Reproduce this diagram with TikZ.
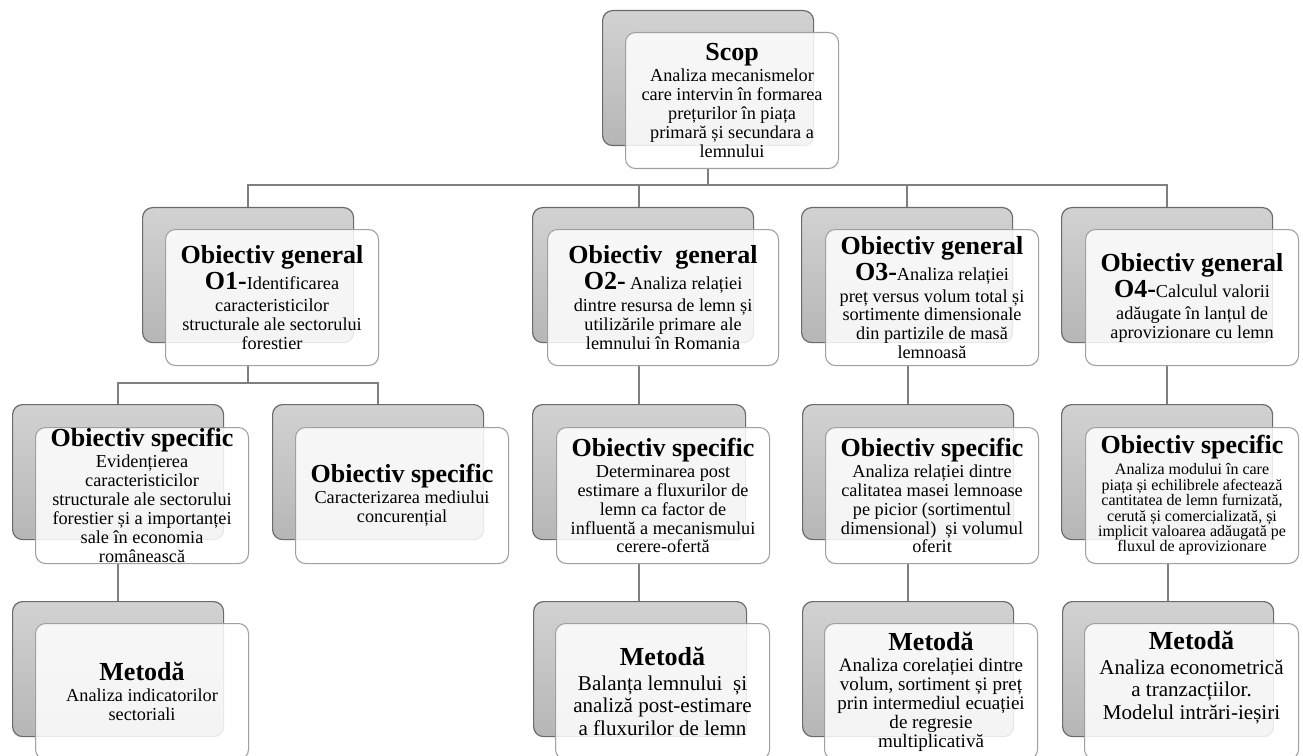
\documentclass[tikz,border=0pt]{standalone}
\usepackage{fontspec}
\setmainfont{Liberation Serif}
\newcommand\ttlfont{\fontsize{19.5}{22}\selectfont\bfseries}
\newcommand\bodyfont{\fontsize{13.7}{14.2}\selectfont}
\newcommand\bodyfontM{\fontsize{14.3}{14.3}\selectfont}
\newcommand\bodyfontL{\fontsize{15.8}{17}\selectfont}
\newcommand\bodyfontS{\fontsize{12}{11.6}\selectfont}
\definecolor{linegray}{HTML}{7F7F7F}
\definecolor{backline}{HTML}{6B6B6B}
\definecolor{backtop}{HTML}{D2D2D2}
\definecolor{backbot}{HTML}{B6B6B6}
\definecolor{frontline}{HTML}{A0A0A0}
\pgfdeclarelayer{background}
\pgfsetlayers{background,main}
\begin{document}
\begin{tikzpicture}[x=0.75pt,y=-0.75pt,
  conn/.style={draw=linegray, line width=1.5pt},
  backbox/.style={draw=backline, line width=0.9pt, top color=backtop, bottom color=backbot,
    rounded corners=7.5pt, anchor=north west, inner sep=0pt,
    minimum width=211*0.75pt, minimum height=135*0.75pt},
  frontbox/.style={draw=frontline, line width=0.8pt, fill=white, fill opacity=0.85,
    rounded corners=7.5pt, anchor=north west, inner sep=0pt,
    minimum width=213*0.75pt, minimum height=136*0.75pt},
  boxtext/.style={align=center, inner sep=0pt, font=\bodyfont},
  wid/.style={minimum width=#1*0.75pt},
]
\useasboundingbox (0,0) rectangle (1303,756);

% ---- scope
\node[backbox] (scopB) at (602,10) {};
\node[frontbox] (scopF) at (625,32) {};
\node[boxtext] (scopT) at (scopF.center)
  {{\ttlfont Scop}\\[1.5pt] Analiza mecanismelor\\ care intervin în formarea\\ prețurilor în piața\\ primară și secundara a\\ lemnului};

% ---- general objectives
\node[backbox] (o1B) at (142,207) {};
\node[frontbox] (o1F) at (165,229) {};
\node[boxtext] (o1T) at (o1F.center)
  {{\ttlfont Obiectiv general}\\[1.5pt] {\ttlfont O1-}Identificarea\\[2pt] caracteristicilor\\ structurale ale sectorului\\ forestier};

\node[backbox, wid=221] (o2B) at (532,207) {};
\node[frontbox, wid=231] (o2F) at (547,229) {};
\node[boxtext] (o2T) at (o2F.center)
  {{\ttlfont Obiectiv\ \ general}\\[1.5pt] {\ttlfont O2-} Analiza relației\\[2pt] dintre resursa de lemn și\\ utilizările primare ale\\ lemnului în Romania};

\node[backbox] (o3B) at (801,207) {};
\node[frontbox] (o3F) at (825,229) {};
\node[boxtext] (o3T) at (o3F.center)
  {{\ttlfont Obiectiv general}\\[1.5pt] {\ttlfont O3-}Analiza relației\\[2pt] preț versus volum total și\\ sortimente dimensionale\\ din partizile de masă\\ lemnoasă};

\node[backbox] (o4B) at (1061,207) {};
\node[frontbox] (o4F) at (1085,229) {};
\node[boxtext] (o4T) at (o4F.center)
  {{\ttlfont Obiectiv general}\\[1.5pt] {\ttlfont O4-}Calculul valorii\\[2pt] adăugate în lanțul de\\ aprovizionare cu lemn};

% ---- specific objectives
\node[backbox] (s1B) at (12,404) {};
\node[frontbox] (s1F) at (35,427) {};
\node[boxtext] (s1T) at (s1F.center)
  {{\ttlfont Obiectiv specific}\\[1.5pt] Evidențierea\\ caracteristicilor\\ structurale ale sectorului\\ forestier și a importanței\\ sale în economia\\ românească};

\node[backbox] (s2B) at (272,404) {};
\node[frontbox] (s2F) at (295,427) {};
\node[boxtext] (s2T) at (s2F.center)
  {{\ttlfont Obiectiv specific}\\[1.5pt] Caracterizarea mediului\\ concurențial};

\node[backbox, wid=213] (s3B) at (532,404) {};
\node[frontbox] (s3F) at (556,427) {};
\node[boxtext] (s3T) at (s3F.center)
  {{\ttlfont Obiectiv specific}\\[1.5pt] Determinarea post\\ estimare a fluxurilor de\\ lemn ca factor de\\ influentă a mecanismului\\ cerere-ofertă};

\node[backbox] (s4B) at (802,404) {};
\node[frontbox] (s4F) at (825,427) {};
\node[boxtext] (s4T) at (s4F.center)
  {{\ttlfont Obiectiv specific}\\[1.5pt] Analiza relației dintre\\ calitatea masei lemnoase\\ pe picior (sortimentul\\ dimensional)\ \ și volumul\\ oferit};

\node[backbox] (s5B) at (1061,404) {};
\node[frontbox] (s5F) at (1085,427) {};
\node[boxtext, font=\bodyfontS] (s5T) at (s5F.center)
  {{\ttlfont Obiectiv specific}\\[2pt] Analiza modului în care\\ piața și echilibrele afectează\\ cantitatea de lemn furnizată,\\ cerută și comercializată, și\\ implicit valoarea adăugată pe\\ fluxul de aprovizionare};

% ---- methods
\node[backbox] (m1B) at (12,601) {};
\node[frontbox] (m1F) at (35,623) {};
\node[boxtext] (m1T) at (m1F.center)
  {{\ttlfont Metodă}\\[1.5pt] Analiza indicatorilor\\ sectoriali};

\node[backbox, wid=213] (m2B) at (533,601) {};
\node[frontbox, wid=214] (m2F) at (555,623) {};
\node[boxtext, font=\bodyfontL] (m2T) at (m2F.center)
  {{\ttlfont Metodă}\\[1.5pt] Balanța lemnului\ \ și\\ analiză post-estimare\\ a fluxurilor de lemn};

\node[backbox] (m3B) at (802,601) {};
\node[frontbox] (m3F) at (824,623) {};
\node[boxtext, font=\bodyfontM] (m3T) at (m3F.center)
  {{\ttlfont Metodă}\\[1.5pt] Analiza corelației dintre\\ volum, sortiment și preț\\ prin intermediul ecuației\\ de regresie\\ multiplicativă};

\node[backbox] (m4B) at (1062,601) {};
\node[frontbox, wid=214] (m4F) at (1084,623) {};
\node[boxtext, font=\bodyfontL, yshift=10.5pt] (m4T) at (m4F.center)
  {{\ttlfont Metodă}\\[1.5pt] Analiza econometrică\\ a tranzacțiilor.\\ Modelul intrări-ieșiri};

% ---- connectors (behind the boxes)
\coordinate (busTop) at (0,185);
\coordinate (busMid) at (0,383);
\begin{pgfonlayer}{background}
  \draw[conn] (scopB.south |- scopF.south) -- (scopB.south |- busTop) -| (o1B.north);
  \draw[conn] (scopB.south |- busTop) -| (s3B.north |- o2B.north);
  \draw[conn] (scopB.south |- busTop) -| (o3B.north);
  \draw[conn] (scopB.south |- busTop) -| (o4B.north);
  \draw[conn] (o1B.south |- o1F.south) -- (o1B.south |- busMid) -| (s1B.north);
  \draw[conn] (o1B.south |- busMid) -| (s2B.north);
  \draw[conn] (s3B.north |- o2F.south) -- (s3B.north);
  \draw[conn] (s4B.north |- o3F.south) -- (s4B.north);
  \draw[conn] (s5B.north |- o4F.south) -- (s5B.north);
  \draw[conn] (m1B.north |- s1F.south) -- (m1B.north);
  \draw[conn] (s3B.north |- s3F.south) -- (s3B.north |- m2B.north);
  \draw[conn] (m3B.north |- s4F.south) -- (m3B.north);
  \draw[conn] (m4B.north |- s5F.south) -- (m4B.north);
\end{pgfonlayer}
\end{tikzpicture}
\end{document}
